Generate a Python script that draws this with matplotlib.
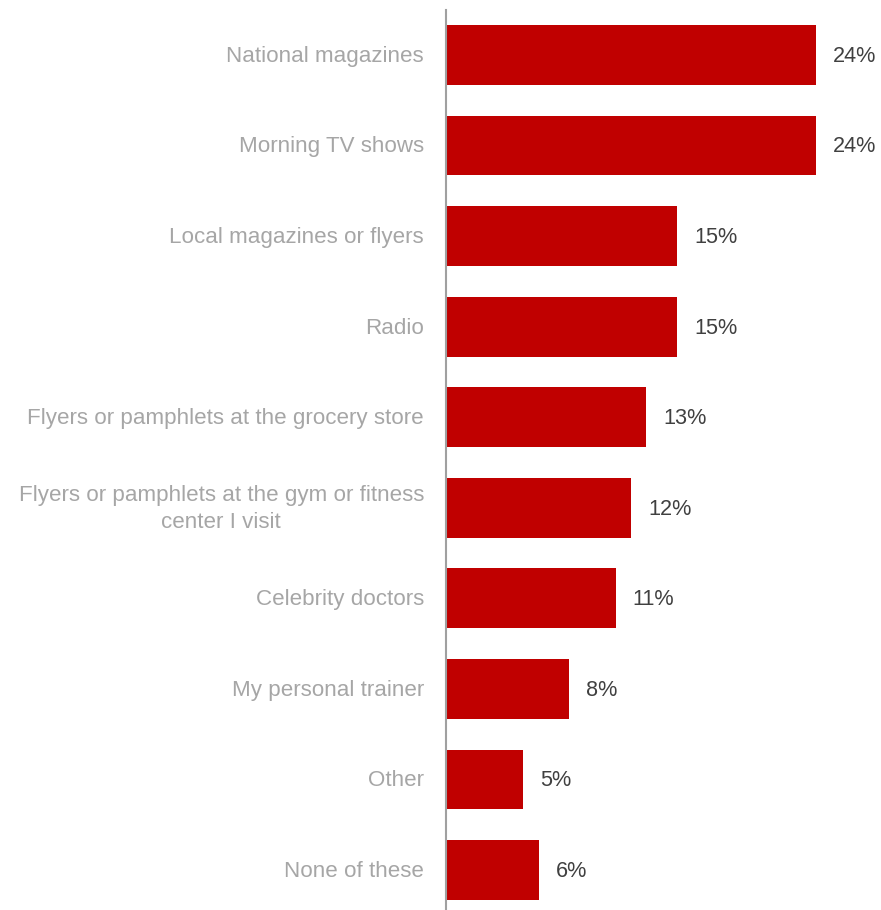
import matplotlib
matplotlib.use("Agg")
import matplotlib.pyplot as plt

categories = [
    "National magazines",
    "Morning TV shows",
    "Local magazines or flyers",
    "Radio",
    "Flyers or pamphlets at the grocery store",
    "Flyers or pamphlets at the gym or fitness\ncenter I visit",
    "Celebrity doctors",
    "My personal trainer",
    "Other",
    "None of these",
]
values = [24, 24, 15, 15, 13, 12, 11, 8, 5, 6]

W, H = 881, 910
fig = plt.figure(figsize=(W / 100, H / 100), dpi=100)
ax = fig.add_axes([446 / W, 0, 1 - 446 / W, 1 - 10 / H])

pos = list(range(len(categories)))
ax.barh(pos, values, height=0.66, color="#C00000", zorder=2)

ax.set_xlim(0, (W - 446) / 15.42)
ax.set_ylim(9 + 40 / 90.56, -0.497)

font = "Liberation Sans"
for p, v, c in zip(pos, values, categories):
    ax.annotate(f"{v}%", xy=(v, p), xytext=(12.2, -1), textcoords="offset points",
                va="center", ha="left", fontsize=15.6, color="#404040",
                family=font, annotation_clip=False)
    ax.annotate(c, xy=(0, p), xytext=(-15.8, -1), textcoords="offset points",
                ha="right", va="center", fontsize=16.1, color="#A6A6A6",
                family=font, multialignment="center", linespacing=1.35,
                annotation_clip=False)

for s in ["top", "right", "bottom"]:
    ax.spines[s].set_visible(False)
ax.spines["left"].set_color("#A0A0A0")
ax.spines["left"].set_linewidth(1.5)
ax.set_xticks([])
ax.set_yticks([])

fig.savefig("out.png", dpi=100, facecolor="white")
